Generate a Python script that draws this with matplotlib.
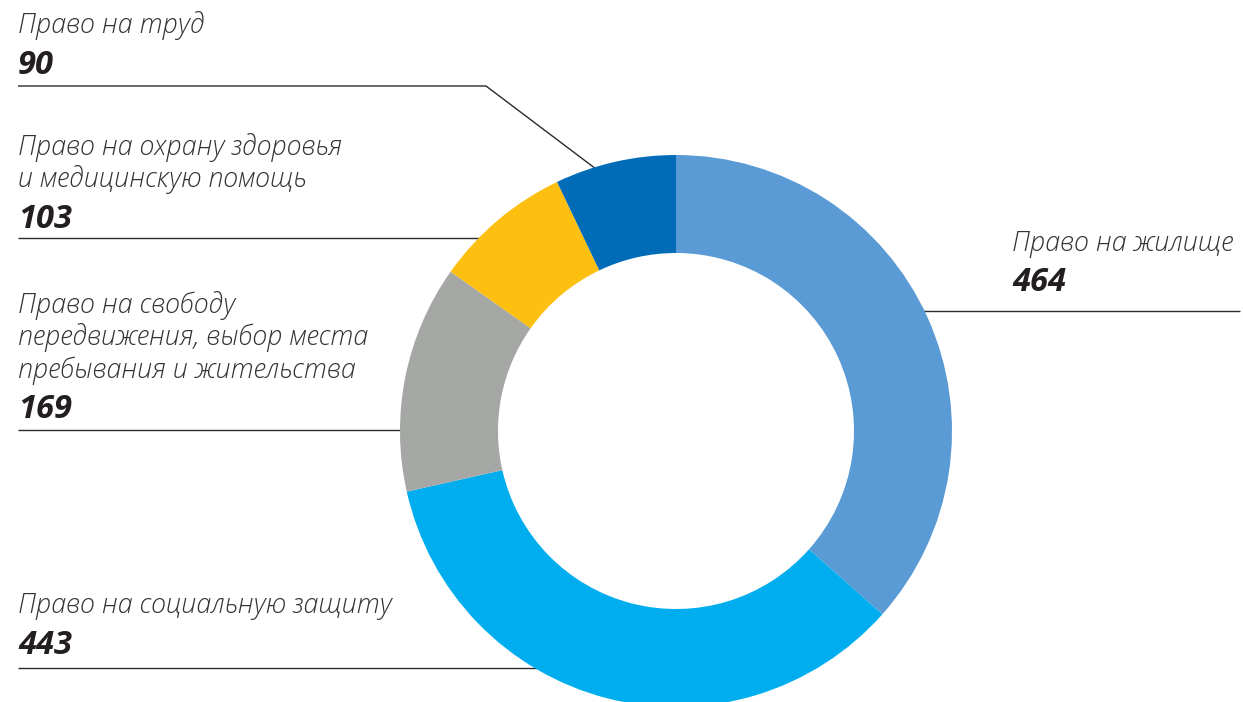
import matplotlib
matplotlib.use("Agg")
import matplotlib.pyplot as plt

# Data: complaints by right category (clockwise from 12 o'clock)
categories = [
    "Право на жилище",
    "Право на социальную защиту",
    "Право на свободу\nпередвижения, выбор места\nпребывания и жительства",
    "Право на охрану здоровья\nи медицинскую помощь",
    "Право на труд",
]
values = [464, 443, 169, 103, 90]
colors = ["#5B9BD5", "#00AEEF", "#A5A7A5", "#FDC010", "#006CB7"]

W, H = 1243, 702
fig = plt.figure(figsize=(W / 100, H / 100), dpi=100)
ax = fig.add_axes([0, 0, 1, 1])
ax.set_xlim(0, W)
ax.set_ylim(0, H)
ax.set_aspect("equal")
ax.axis("off")


def Y(y):
    return H - y


cx, cy, r_out, r_in = 676, 431, 276, 178

# Leader lines (drawn beneath the ring)
line_kw = dict(color="#2b2b2b", lw=1.0, zorder=1, solid_capstyle="butt")
ax.plot([18, 486, 600], [Y(86), Y(86), Y(172)], **line_kw)
ax.plot([18, 480], [Y(238), Y(238)], **line_kw)
ax.plot([18, 410], [Y(430), Y(430)], **line_kw)
ax.plot([18, 560], [Y(668), Y(668)], **line_kw)
ax.plot([915, 1240], [Y(311), Y(311)], **line_kw)

wedges, _ = ax.pie(
    values,
    colors=colors,
    startangle=90,
    counterclock=False,
    radius=r_out,
    center=(cx, Y(cy)),
    wedgeprops=dict(width=r_out - r_in, linewidth=0),
    frame=True,
)
for w in wedges:
    w.set_zorder(2)
ax.set_xlim(0, W)
ax.set_ylim(0, H)
ax.axis("off")

font = "Open Sans"
label_kw = dict(family=font, style="italic", weight="light", fontsize=19.4,
                color="#333333", ha="left", va="baseline")
num_kw = dict(family=font, style="italic", weight="bold", fontsize=23.5,
              color="#231F20", ha="left", va="baseline")

# (label x, first label baseline, number baseline)
positions = [
    (1012, 251, 291),
    (18, 613, 654),
    (18, 313, 418),
    (18, 155, 228),
    (18, 33, 74),
]

for cat, val, (x, yl, yn) in zip(categories, values, positions):
    lines = cat.split("\n")
    for i, ln in enumerate(lines):
        ax.text(x, Y(yl + i * 32.5), ln, **label_kw)
    ax.text(x, Y(yn), str(val), **num_kw)

fig.savefig("out.png", dpi=100)
